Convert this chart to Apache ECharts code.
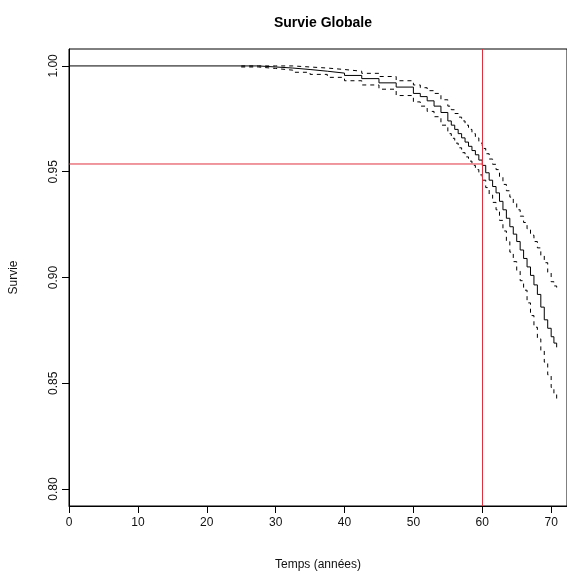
<!DOCTYPE html>
<html>
<head>
<meta charset="utf-8">
<script src="https://cdn.jsdelivr.net/npm/echarts@6/dist/echarts.min.js"></script>
<style>
  html, body { margin: 0; padding: 0; background: #fff; }
  #chart { width: 567px; height: 576px; }
</style>
</head>
<body>
<div id="chart"></div>
<script>
// survival estimate (Kaplan-Meier)
var times = [0, 25, 27.5, 30, 32.5, 35, 37.5, 40, 42.5, 45, 47.5, 50, 51, 52, 53, 54, 55, 55.5, 56, 56.5, 57, 57.5, 58, 58.5, 59, 59.5,
  60, 60.5, 61, 61.5, 62, 62.5, 63, 63.5, 64, 64.5, 65, 65.5, 66, 66.5, 67, 67.5, 68, 68.5, 69, 69.5, 70, 70.4, 70.8];
var survie = [1.000, 1.000, 0.9995, 0.999, 0.9983, 0.9975, 0.9966, 0.9955, 0.994, 0.992, 0.990, 0.987, 0.9855, 0.9835, 0.981, 0.978,
  0.974, 0.972, 0.970, 0.968, 0.966, 0.964, 0.962, 0.960, 0.958, 0.9555, 0.953, 0.9495, 0.946, 0.943, 0.940, 0.936, 0.932, 0.928,
  0.924, 0.9205, 0.917, 0.913, 0.909, 0.905, 0.901, 0.8965, 0.892, 0.886, 0.880, 0.876, 0.872, 0.869, 0.867];

// confidence band, starts at 25 years
var bandTimes = [25, 27.5, 30, 32.5, 35, 37.5, 40, 42.5, 45, 47.5, 50, 51, 52, 53, 54, 55, 55.5, 56, 56.5, 57, 57.5, 58, 58.5, 59, 59.5,
  60, 60.5, 61, 61.5, 62, 62.5, 63, 63.5, 64, 64.5, 65, 65.5, 66, 66.5, 67, 67.5, 68, 68.5, 69, 69.5, 70, 70.4, 70.8];
var upper = [1.000, 1.000, 1.000, 0.9995, 0.999, 0.9983, 0.9975, 0.9965, 0.995, 0.993, 0.991, 0.9897, 0.9883, 0.987, 0.984, 0.981,
  0.9793, 0.9775, 0.9758, 0.974, 0.972, 0.970, 0.968, 0.966, 0.9635, 0.961, 0.9585, 0.956, 0.9535, 0.951, 0.9475, 0.944, 0.941,
  0.938, 0.935, 0.932, 0.929, 0.926, 0.923, 0.920, 0.917, 0.914, 0.9105, 0.907, 0.9025, 0.898, 0.896, 0.894];
var lower = [0.9995, 0.9988, 0.998, 0.997, 0.996, 0.9946, 0.993, 0.991, 0.989, 0.986, 0.983, 0.981, 0.9785, 0.976, 0.972, 0.968,
  0.9658, 0.9635, 0.9613, 0.959, 0.957, 0.955, 0.953, 0.951, 0.9485, 0.946, 0.9425, 0.939, 0.9355, 0.932, 0.927, 0.922, 0.917,
  0.912, 0.9075, 0.903, 0.8985, 0.894, 0.888, 0.882, 0.8765, 0.871, 0.8655, 0.860, 0.854, 0.848, 0.845, 0.842];

var xTicks = [0, 10, 20, 30, 40, 50, 60, 70];
var yTicks = [0.80, 0.85, 0.90, 0.95, 1.00];

// reference lines
var refTime = 60;
var refSurv = 0.95365;

var refColor = '#e0303e';

function pairs(xs, ys) {
  return xs.map(function (x, i) {
    return [x, ys[i]];
  });
}

var chart = echarts.init(document.getElementById('chart'), null, { renderer: 'canvas' });

var font = 'Liberation Sans, Arial, sans-serif';

var option = {
  animation: false,
  backgroundColor: '#fff',
  title: {
    text: 'Survie Globale',
    left: 318,
    textAlign: 'center',
    top: 11,
    textStyle: { fontFamily: font, fontSize: 14, fontWeight: 'bold', color: '#000' }
  },
  grid: {
    left: 69,
    top: 49,
    width: 500,
    height: 459,
    show: true,
    borderColor: '#000',
    borderWidth: 1
  },
  xAxis: {
    type: 'value',
    min: 0,
    max: 72.3,
    name: 'Temps (années)',
    nameLocation: 'middle',
    nameGap: 53,
    nameTextStyle: { fontFamily: font, fontSize: 12, color: '#111', align: 'center' },
    axisLine: { show: true, onZero: false, lineStyle: { color: '#000', width: 1 } },
    axisTick: { show: true, length: 7, customValues: xTicks, lineStyle: { color: '#000' } },
    axisLabel: { customValues: xTicks, margin: 11, fontFamily: font, fontSize: 12, color: '#111' },
    splitLine: { show: false }
  },
  yAxis: {
    type: 'value',
    min: 0.792,
    max: 1.008,
    name: 'Survie',
    nameLocation: 'middle',
    nameGap: 49,
    nameRotate: 90,
    nameTextStyle: { fontFamily: font, fontSize: 12, color: '#111' },
    axisLine: { show: true, onZero: false, lineStyle: { color: '#000', width: 1 } },
    axisTick: { show: true, length: 7, customValues: yTicks, lineStyle: { color: '#000' } },
    axisLabel: {
      customValues: yTicks,
      rotate: 90,
      margin: 9,
      fontFamily: font,
      fontSize: 12,
      color: '#111',
      formatter: function (v) { return v.toFixed(2); }
    },
    splitLine: { show: false }
  },
  series: [
    {
      name: 'survie',
      type: 'line',
      step: 'end',
      symbol: 'none',
      data: pairs(times, survie),
      lineStyle: { color: '#000', width: 1 }
    },
    {
      name: 'upper',
      type: 'line',
      step: 'end',
      symbol: 'none',
      data: pairs(bandTimes, upper),
      lineStyle: { color: '#000', width: 1, type: [4, 4] }
    },
    {
      name: 'lower',
      type: 'line',
      step: 'end',
      symbol: 'none',
      data: pairs(bandTimes, lower),
      lineStyle: { color: '#000', width: 1, type: [4, 4] }
    },
    {
      // horizontal reference: survival at refTime
      name: 'hRef',
      type: 'line',
      symbol: 'none',
      data: [[0, refSurv], [refTime, refSurv]],
      lineStyle: { color: refColor, width: 1 },
      z: 5
    },
    {
      // vertical reference at refTime
      name: 'vRef',
      type: 'line',
      data: [],
      markLine: {
        silent: true,
        symbol: 'none',
        label: { show: false },
        lineStyle: { color: refColor, width: 1, type: 'solid' },
        data: [{ xAxis: refTime }]
      }
    }
  ]
};

chart.setOption(option);
</script>
</body>
</html>
